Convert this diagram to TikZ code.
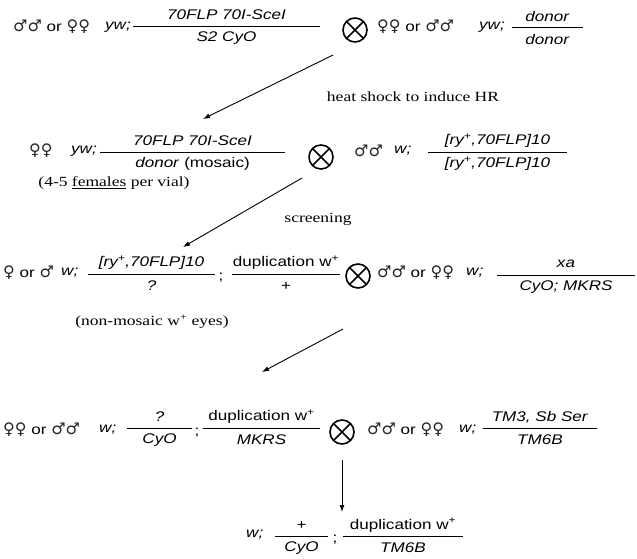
\documentclass[tikz,border=0pt]{standalone}
\usepackage{fontspec}
\setmainfont{Liberation Sans}[FakeStretch=1.22]
\newfontfamily\timesfont{Liberation Serif}[FakeStretch=1.25]
\newfontfamily\simbolos{DejaVu Sans}
\newcommand{\sx}[1]{{\simbolos\fontsize{16}{16}\selectfont\color{black!85}#1}}
\usetikzlibrary{arrows.meta}

\begin{document}
\begin{tikzpicture}[x=1pt,y=-1pt,
    every node/.style={font=\fontsize{14}{16}\selectfont,inner sep=1pt},
    sexo/.style={anchor=west},
    nota/.style={font=\timesfont\fontsize{14}{16}\selectfont},
    cruz/.style={circle,draw,line width=1.6pt,minimum size=24pt,inner sep=0pt,
        path picture={\draw[line width=1.6pt]
            (path picture bounding box.north west) -- (path picture bounding box.south east)
            (path picture bounding box.north east) -- (path picture bounding box.south west);}},
    flecha/.style={-{Latex[length=7pt,width=5pt]},line width=0.9pt}]
    \useasboundingbox (0,0) rectangle (637,558);

    % fracciones (barra, numerador, denominador)
    \foreach \n/\xa/\xb/\y/\num/\den in {
        f1a/133/320/26/{\textit{70FLP 70I-SceI}}/{\textit{S2 CyO}},
        f1b/512/583/27/{\textit{donor}}/{\textit{donor}},
        f2a/100/285/152/{\textit{70FLP 70I-SceI}}/{\textit{donor} (mosaic)},
        f2b/428/567/152/{\textit{[ry\textsuperscript{+},70FLP]10}}/{\textit{[ry\textsuperscript{+},70FLP]10}},
        f3a/88/215/274/{\textit{[ry\textsuperscript{+},70FLP]10}}/{\textit{?}},
        f3b/232/340/274/{duplication w\textsuperscript{+}}/{+},
        f3c/497/635/275/{\textit{xa}}/{\textit{CyO; MKRS}},
        f4a/127/192/428/{\textit{?}}/{\textit{CyO}},
        f4b/203/320/428/{duplication w\textsuperscript{+}}/{\textit{MKRS}},
        f4c/483/597/428/{\textit{TM3, Sb Ser}}/{\textit{TM6B}},
        f5a/275/328/536/{+}/{\textit{CyO}},
        f5b/343/463/536/{duplication w\textsuperscript{+}}/{\textit{TM6B}}}
    {
        \draw[line width=0.8pt] (\xa,\y) -- (\xb,\y);
        \node (\n num) at ({(\xa+\xb)/2},\y-11) {\num};
        \node (\n den) at ({(\xa+\xb)/2},\y+12) {\den};
    }

    % fila 1
    \node[sexo] (s1a) at (12,27) {\sx{♂♂} or \sx{♀♀}};
    \node[sexo] (g1a) at (104,27) {\textit{yw;}};
    \node[cruz] (x1) at (355,30) {};
    \node[sexo] (s1b) at (376,27) {\sx{♀♀} or \sx{♂♂}};
    \node[sexo] (g1b) at (478,27) {\textit{yw;}};

    % fila 2
    \node[sexo] (s2a) at (28,151) {\sx{♀♀}};
    \node[sexo] (g2a) at (70,151) {\textit{yw;}};
    \node[cruz] (x2) at (321,157) {};
    \node[sexo] (s2b) at (353,151) {\sx{♂♂}};
    \node[sexo] (g2b) at (393,151) {\textit{w;}};

    % fila 3
    \node[sexo] (s3a) at (2,273) {\sx{♀} or \sx{♂}};
    \node[sexo] (g3a) at (60,273) {\textit{w;}};
    \node (p3) at (221,278) {;};
    \node[cruz] (x3) at (358,276) {};
    \node[sexo] (s3b) at (376,273) {\sx{♂♂} or \sx{♀♀}};
    \node[sexo] (g3b) at (465,273) {\textit{w;}};

    % fila 4
    \node[sexo] (s4a) at (2,430) {\sx{♀♀} or \sx{♂♂}};
    \node[sexo] (g4a) at (98,430) {\textit{w;}};
    \node (p4) at (197,433) {;};
    \node[cruz] (x4) at (342,432) {};
    \node[sexo] (s4b) at (366,430) {\sx{♂♂} or \sx{♀♀}};
    \node[sexo] (g4b) at (458,430) {\textit{w;}};

    % fila 5
    \node[sexo] (g5a) at (245,535) {\textit{w;}};
    \node (p5) at (335,540) {;};

    % notas
    \node[nota] (hs) at (413,97) {heat shock to induce HR};
    \node[nota] (fv) at (114,183) {(4-5 \underline{females} per vial)};
    \node[nota] (scr) at (318,219) {screening};
    \node[nota] (nm) at (152,322) {(non-mosaic w\textsuperscript{+} eyes)};

    % flechas
    \coordinate (a1) at (333,55);  \coordinate (b1) at (203,119);
    \coordinate (a2) at (302,178); \coordinate (b2) at (183,247);
    \coordinate (a3) at (343,329); \coordinate (b3) at (262,372);
    \coordinate (a4) at (342,460); \coordinate (b4) at (342,512);
    \foreach \i in {1,...,4}
        \draw[flecha] (a\i) -- (b\i);
\end{tikzpicture}
\end{document}
